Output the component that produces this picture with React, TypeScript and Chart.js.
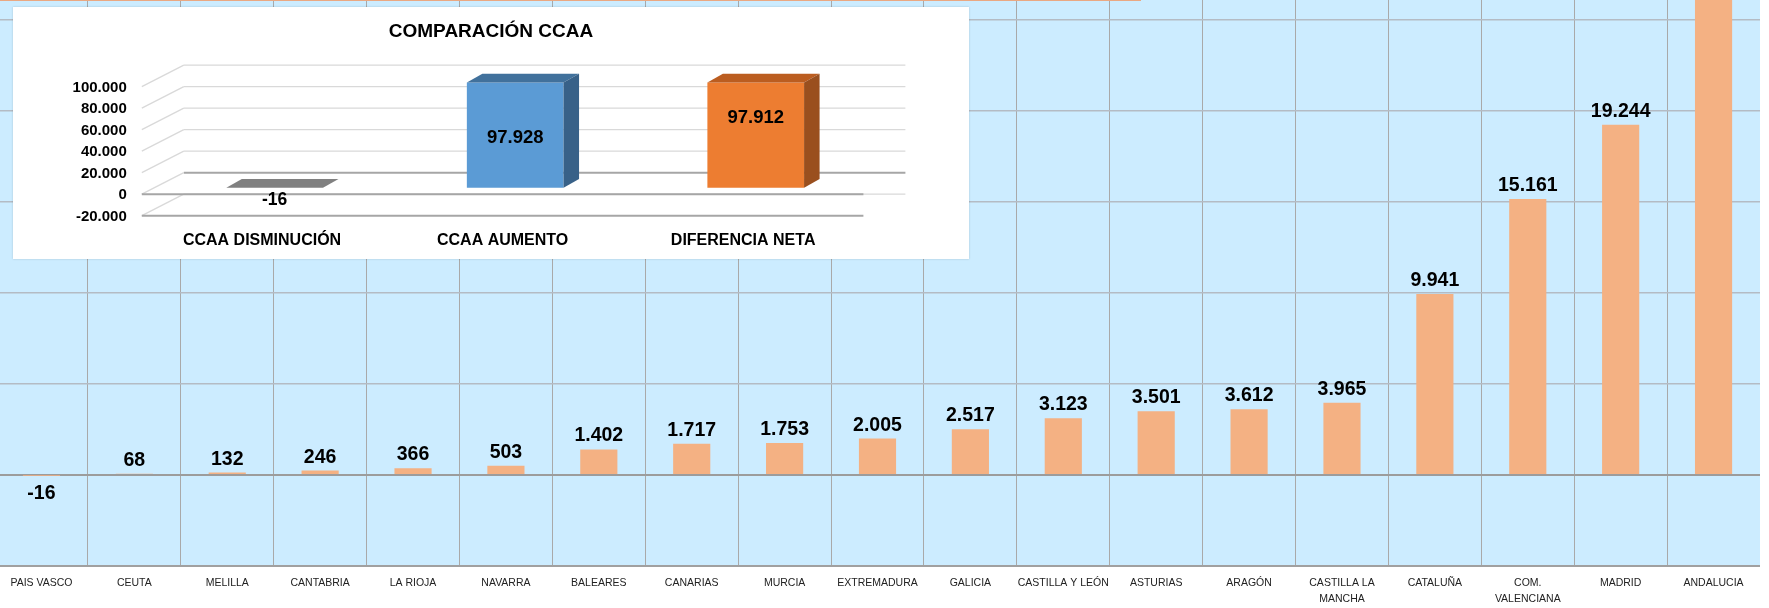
import React, { useEffect, useRef } from 'react';
import { Chart, registerables } from 'chart.js';

Chart.register(...registerables);

// ---------- Main chart data ----------
const CATEGORIES: (string | string[])[] = [
  'PAIS VASCO', 'CEUTA', 'MELILLA', 'CANTABRIA', 'LA RIOJA', 'NAVARRA', 'BALEARES',
  'CANARIAS', 'MURCIA', 'EXTREMADURA', 'GALICIA', 'CASTILLA Y LEÓN', 'ASTURIAS', 'ARAGÓN',
  ['CASTILLA LA', 'MANCHA'], 'CATALUÑA', ['COM.', 'VALENCIANA'], 'MADRID', 'ANDALUCIA',
];
const VALUES = [-16, 68, 132, 246, 366, 503, 1402, 1717, 1753, 2005, 2517, 3123, 3501, 3612, 3965, 9941, 15161, 19244, 28672];
const Y_MIN = -5000;
const Y_MAX = 30000;
const Y_STEP = 5000;

// ---------- Inset chart data ----------
const INSET_TITLE = 'COMPARACIÓN CCAA';
const INSET_CATEGORIES = ['CCAA DISMINUCIÓN', 'CCAA AUMENTO', 'DIFERENCIA NETA'];
const INSET_VALUES = [-16, 97928, 97912];
const INSET_Y_MIN = -20000;
const INSET_Y_MAX = 100000;
const INSET_Y_STEP = 20000;

// ---------- Styles ----------
const FONT = "'Liberation Sans', Arial, sans-serif";
const BAR_COLOR = '#f4b183';
const PLOT_BG = '#ccecff';
const INSET_FRONT = ['#7f7f7f', '#5b9bd5', '#ed7d31'];
const INSET_TOP = ['#808080', '#41719c', '#bb5d20'];
const INSET_SIDE = ['#5e5e5e', '#386188', '#9a4f1e'];
const INSET_LABEL_SHIFT = [0, 0, -20.5];
const DEPTH = { dx: 42, dy: -21.5 };
const BAR_PLANE = 0.3;
const BAR_DEPTH = { dx: 15.5, dy: -8.7 };
const X_AXIS_HEIGHT = 41;

function fmt(v: number): string {
  const s = Math.abs(Math.round(v)).toString().replace(/\B(?=(\d{3})+(?!\d))/g, '.');
  return (v < 0 ? '-' : '') + s;
}

const mainPlugin = {
  id: 'mainDeco',
  beforeDraw(chart: any) {
    const { ctx, chartArea: a } = chart;
    ctx.save();
    ctx.fillStyle = PLOT_BG;
    ctx.fillRect(a.left, a.top, a.right - a.left, a.bottom - a.top);
    ctx.restore();
  },
  afterDatasetsDraw(chart: any) {
    const ctx = chart.ctx;
    const meta = chart.getDatasetMeta(0);
    const data = chart.data.datasets[0].data as number[];
    ctx.save();
    ctx.font = `bold 19.5px ${FONT}`;
    ctx.fillStyle = '#000';
    ctx.textAlign = 'center';
    ctx.textBaseline = 'alphabetic';
    meta.data.forEach((bar: any, i: number) => {
      const v = data[i];
      const p = bar.getProps(['x', 'y', 'base'], true);
      if (v >= 0) ctx.fillText(fmt(v), p.x, p.y - 8);
      else ctx.fillText(fmt(v), p.x, p.base + 23);
    });
    ctx.restore();
  },
};

function line(ctx: CanvasRenderingContext2D, x1: number, y1: number, x2: number, y2: number) {
  ctx.beginPath();
  ctx.moveTo(x1, y1);
  ctx.lineTo(x2, y2);
  ctx.stroke();
}

const insetPlugin = {
  id: 'insetDeco',
  beforeDraw(chart: any) {
    const { ctx, width, height } = chart;
    ctx.save();
    ctx.fillStyle = '#ffffff';
    ctx.fillRect(0, 0, width, height);
    ctx.restore();
  },
  beforeDatasetsDraw(chart: any) {
    const { ctx, chartArea: a, scales } = chart;
    const y = scales.y;
    const x = scales.x;
    const fx = -BAR_PLANE * DEPTH.dx;
    const fy = -BAR_PLANE * DEPTH.dy;
    const bx = (1 - BAR_PLANE) * DEPTH.dx;
    const by = (1 - BAR_PLANE) * DEPTH.dy;
    const ticks: number[] = (y.ticks || []).map((t: any) => t.value);
    ctx.save();
    ticks.forEach((v) => {
      const py = y.getPixelForValue(v);
      ctx.strokeStyle = v === 0 ? '#a6a6a6' : '#d9d9d9';
      ctx.lineWidth = v === 0 ? 2 : 1.3;
      line(ctx, a.left + bx, py + by, a.right + bx, py + by);
      ctx.strokeStyle = '#d9d9d9';
      ctx.lineWidth = 1.3;
      line(ctx, a.left + fx, py + fy, a.left + bx, py + by);
    });
    [0, y.min].forEach((v: number) => {
      const py = y.getPixelForValue(v);
      ctx.strokeStyle = '#a6a6a6';
      ctx.lineWidth = 2;
      line(ctx, a.left + fx, py + fy, a.right + fx, py + fy);
    });
    // y tick labels
    ctx.fillStyle = '#000';
    ctx.font = `bold 15px ${FONT}`;
    ctx.textAlign = 'right';
    ctx.textBaseline = 'middle';
    ticks.forEach((v) => {
      const py = y.getPixelForValue(v);
      ctx.fillText(fmt(v), a.left + fx - 15, py + fy + 1);
    });
    // category labels
    const yMinFront = y.getPixelForValue(y.min) + fy;
    ctx.font = `bold 16px ${FONT}`;
    ctx.textAlign = 'center';
    (chart.data.labels as string[]).forEach((lab, i) => {
      ctx.fillText(lab, x.getPixelForValue(i) + fx, yMinFront + 25);
    });
    // title
    ctx.font = `bold 19px ${FONT}`;
    ctx.fillText(INSET_TITLE, chart.width / 2, 25);
    ctx.restore();
  },
  afterDatasetsDraw(chart: any) {
    const ctx = chart.ctx;
    const meta = chart.getDatasetMeta(0);
    const data = chart.data.datasets[0].data as number[];
    ctx.save();
    meta.data.forEach((bar: any, i: number) => {
      const p = bar.getProps(['x', 'y', 'base', 'width'], true);
      const left = p.x - p.width / 2;
      const right = p.x + p.width / 2;
      const top = Math.min(p.y, p.base);
      const bottom = Math.max(p.y, p.base);
      const { dx, dy } = BAR_DEPTH;
      ctx.fillStyle = INSET_TOP[i];
      ctx.beginPath();
      ctx.moveTo(left, top);
      ctx.lineTo(left + dx, top + dy);
      ctx.lineTo(right + dx, top + dy);
      ctx.lineTo(right, top);
      ctx.closePath();
      ctx.fill();
      if (bottom - top > 1) {
        ctx.fillStyle = INSET_SIDE[i];
        ctx.beginPath();
        ctx.moveTo(right, top);
        ctx.lineTo(right + dx, top + dy);
        ctx.lineTo(right + dx, bottom + dy);
        ctx.lineTo(right, bottom);
        ctx.closePath();
        ctx.fill();
      }
      const v = data[i];
      ctx.fillStyle = '#000';
      ctx.textAlign = 'center';
      ctx.textBaseline = 'alphabetic';
      if (v >= 0) {
        ctx.font = `bold 18.5px ${FONT}`;
        ctx.fillText(fmt(v), p.x, (top + bottom) / 2 + 8 + INSET_LABEL_SHIFT[i]);
      } else {
        ctx.font = `bold 17.5px ${FONT}`;
        ctx.fillText(fmt(v), p.x, p.base + 17);
      }
    });
    ctx.restore();
  },
};

export default function App() {
  const mainRef = useRef<HTMLCanvasElement>(null);
  const insetRef = useRef<HTMLCanvasElement>(null);

  useEffect(() => {
    const main = new Chart(mainRef.current as HTMLCanvasElement, {
      type: 'bar',
      data: {
        labels: CATEGORIES as any,
        datasets: [
          {
            data: VALUES,
            backgroundColor: BAR_COLOR,
            borderWidth: 0,
            barPercentage: 0.4,
            categoryPercentage: 1,
          },
        ],
      },
      options: {
        responsive: false,
        maintainAspectRatio: false,
        animation: false,
        devicePixelRatio: 1,
        layout: { padding: 0 },
        plugins: { legend: { display: false }, tooltip: { enabled: false }, title: { display: false } },
        scales: {
          x: {
            grid: { color: '#a9a9a9', lineWidth: 1, drawTicks: false, offset: true },
            border: { display: true, color: '#a0a0a0', width: 2 },
            ticks: {
              autoSkip: false,
              maxRotation: 0,
              minRotation: 0,
              padding: 9,
              color: '#222',
              font: { family: FONT, size: 10.5, lineHeight: 16 / 10.5 },
            },
            afterFit: (s: any) => {
              s.height = X_AXIS_HEIGHT;
            },
          },
          y: {
            min: Y_MIN,
            max: Y_MAX,
            ticks: { display: false, stepSize: Y_STEP },
            border: { display: false },
            grid: {
              drawTicks: false,
              color: (c: any) => (c.tick && c.tick.value === 0 ? '#9c9c9c' : '#b4bbc4'),
              lineWidth: (c: any) => (c.tick && c.tick.value === 0 ? 2 : 1.5),
            },
            afterFit: (s: any) => {
              s.width = 0;
            },
          },
        },
      },
      plugins: [mainPlugin],
    });

    const inset = new Chart(insetRef.current as HTMLCanvasElement, {
      type: 'bar',
      data: {
        labels: INSET_CATEGORIES,
        datasets: [
          {
            data: INSET_VALUES,
            backgroundColor: INSET_FRONT,
            borderWidth: 0,
            barPercentage: 0.402,
            categoryPercentage: 1,
          },
        ],
      },
      options: {
        responsive: false,
        maintainAspectRatio: false,
        animation: false,
        devicePixelRatio: 1,
        layout: { padding: { left: 141.4, right: 93, top: 73.2, bottom: 49.8 } },
        plugins: { legend: { display: false }, tooltip: { enabled: false }, title: { display: false } },
        scales: {
          x: { display: false },
          y: { display: false, min: INSET_Y_MIN, max: INSET_Y_MAX, ticks: { stepSize: INSET_Y_STEP } },
        },
      },
      plugins: [insetPlugin],
    });

    return () => {
      main.destroy();
      inset.destroy();
    };
  }, []);

  return (
    <div
      style={{
        position: 'fixed',
        left: 0,
        top: 0,
        width: 1769,
        height: 608,
        overflow: 'hidden',
        background: '#ffffff',
      }}
    >
      <canvas
        ref={mainRef}
        width={1765}
        height={678}
        style={{ position: 'absolute', left: -5, top: -71, width: 1765, height: 678 }}
      />
      <div style={{ position: 'absolute', left: 0, top: 0, width: 1141, height: 1, background: '#eaa882' }} />
      <canvas
        ref={insetRef}
        width={956}
        height={252}
        style={{
          position: 'absolute',
          left: 13,
          top: 7,
          width: 956,
          height: 252,
          boxShadow: '0 0 2px rgba(0,0,0,0.18)',
        }}
      />
    </div>
  );
}
